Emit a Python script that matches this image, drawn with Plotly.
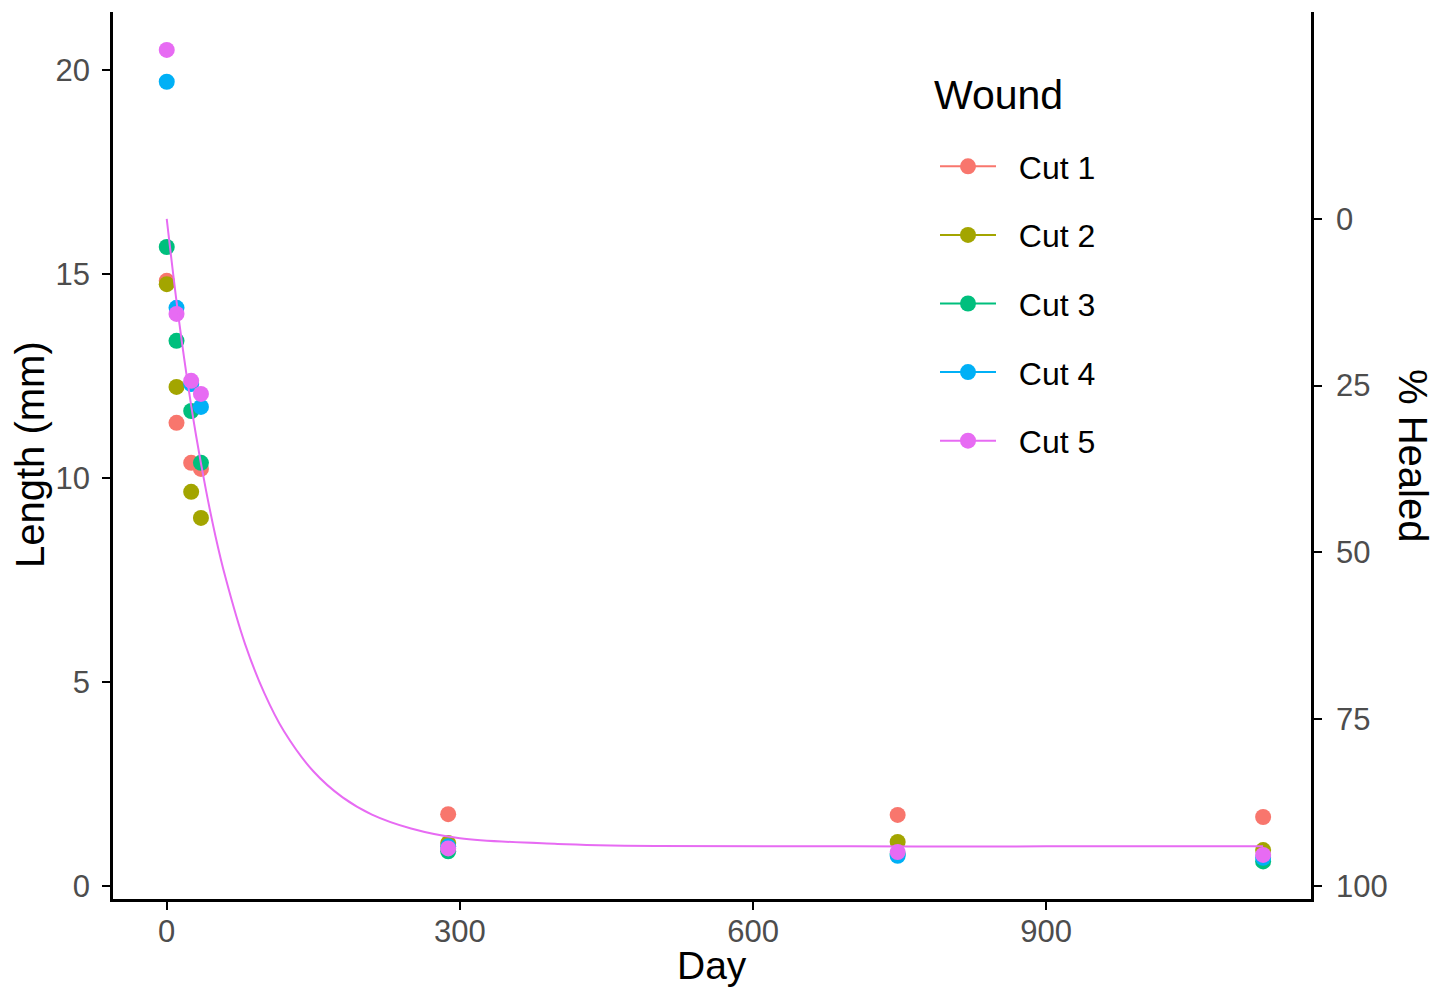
import plotly.graph_objects as go

# ---- data ----
cuts = ["Cut 1", "Cut 2", "Cut 3", "Cut 4", "Cut 5"]
colors = ["#F8766D", "#A3A500", "#00BF7D", "#00B0F6", "#E76BF3"]
days = [0, 10, 25, 35, 288, 748, 1122]
length_cut1 = [14.83, 11.35, 10.37, 10.22, 1.76, 1.74, 1.69]
length_cut2 = [14.75, 12.23, 9.66, 9.02, 1.05, 1.08, 0.88]
length_cut3 = [15.66, 13.36, 11.64, 10.37, 0.85, 0.78, 0.60]
length_cut4 = [19.71, 14.17, 12.30, 11.74, 0.97, 0.74, 0.69]
length_cut5 = [20.49, 14.02, 12.38, 12.06, 0.92, 0.83, 0.76]
lengths = [length_cut1, length_cut2, length_cut3, length_cut4, length_cut5]

fit_days = [0, 10, 20, 30, 40, 50, 60, 80, 100, 120, 150, 180, 210, 250, 300,
            400, 500, 700, 900, 1122]
fit_length = [16.35, 14.33, 12.57, 11.04, 9.72, 8.56, 7.57, 5.94, 4.72, 3.79,
              2.81, 2.17, 1.75, 1.41, 1.17, 1.03, 0.98, 0.97, 0.97, 0.97]

x_ticks = [0, 300, 600, 900]
y_ticks = [0, 5, 10, 15, 20]
healed_ticks = [0, 25, 50, 75, 100]
start_length = 16.35  # length corresponding to 0 % healed

font_family = "Liberation Sans, Arial, sans-serif"
tick_color = "#4D4D4D"

fig = go.Figure()

for i, c in enumerate(cuts):
    fig.add_trace(go.Scatter(
        x=days, y=lengths[i], mode="markers",
        marker=dict(color=colors[i], size=16),
        showlegend=False, hoverinfo="x+y", name=c))

fig.add_trace(go.Scatter(
    x=fit_days, y=fit_length, mode="lines", line=dict(color=colors[4], width=2, shape="spline"),
    showlegend=False, name="fit"))

for i, c in enumerate(cuts):
    fig.add_trace(go.Scatter(
        x=[None], y=[None], mode="lines+markers", name="\u00a0\u00a0" + c,
        line=dict(color=colors[i], width=2),
        marker=dict(color=colors[i], size=16),
        legendgroup=c, showlegend=True))

# invisible trace on secondary axis
fig.add_trace(go.Scatter(x=[None], y=[None], yaxis="y2", showlegend=False, hoverinfo="skip"))

y_lo, y_hi = -0.32, 21.42
p_lo = 100 * (1 - y_lo / start_length)
p_hi = 100 * (1 - y_hi / start_length)

axis_common = dict(
    showgrid=False, zeroline=False, showline=True, linecolor="black", linewidth=2.5,
    ticks="outside", ticklen=8, tickwidth=2, tickcolor="black", automargin=False,
    tickfont=dict(size=31, color=tick_color, family=font_family),
)

# page body has an 8px margin, so the figure is 16px smaller than the window
W, H = 1431, 979
PW, PH = 1198, 887  # plot area size in px
fig.update_layout(
    width=W, height=H,
    paper_bgcolor="white", plot_bgcolor="white",
    margin=dict(l=105, r=128, t=4, b=88, autoexpand=False),
    font=dict(family=font_family, color="black"),
    xaxis=dict(range=[-55, 1171], tickvals=x_ticks, ticklabelstandoff=-5, **axis_common),
    yaxis=dict(range=[y_lo, y_hi], tickvals=y_ticks, ticklabelstandoff=6, **axis_common),
    yaxis2=dict(range=[p_lo, p_hi], tickvals=healed_ticks, overlaying="y", side="right",
                ticklabelstandoff=8, **axis_common),
    legend=dict(
        x=(935 - 113) / PW, y=(899 - 139) / PH, xanchor="left", yanchor="top",
        font=dict(size=32, color="black"),
        tracegroupgap=24, itemwidth=56, bgcolor="rgba(0,0,0,0)",
    ),
    annotations=[
        dict(text="% Healed", textangle=90, xref="paper", yref="paper",
             x=1.0, y=(899 - 455) / PH, xanchor="center", yanchor="middle",
             xshift=102, showarrow=False, font=dict(size=40, color="black")),
        dict(text="Length (mm)", textangle=-90, xref="paper", yref="paper",
             x=0.0, y=(899 - 455) / PH, xanchor="center", yanchor="middle",
             xshift=-83, showarrow=False, font=dict(size=40, color="black")),
        dict(text="Day", xref="paper", yref="paper",
             x=0.5, y=0.0, xanchor="center", yanchor="middle",
             yshift=-66, showarrow=False, font=dict(size=39, color="black")),
        dict(text="Wound", xref="paper", yref="paper",
             x=(932 - 113) / PW, y=(899 - 95) / PH, xanchor="left", yanchor="middle",
             showarrow=False, font=dict(size=41, color="black")),
    ],
)

fig.write_html("out.html")
